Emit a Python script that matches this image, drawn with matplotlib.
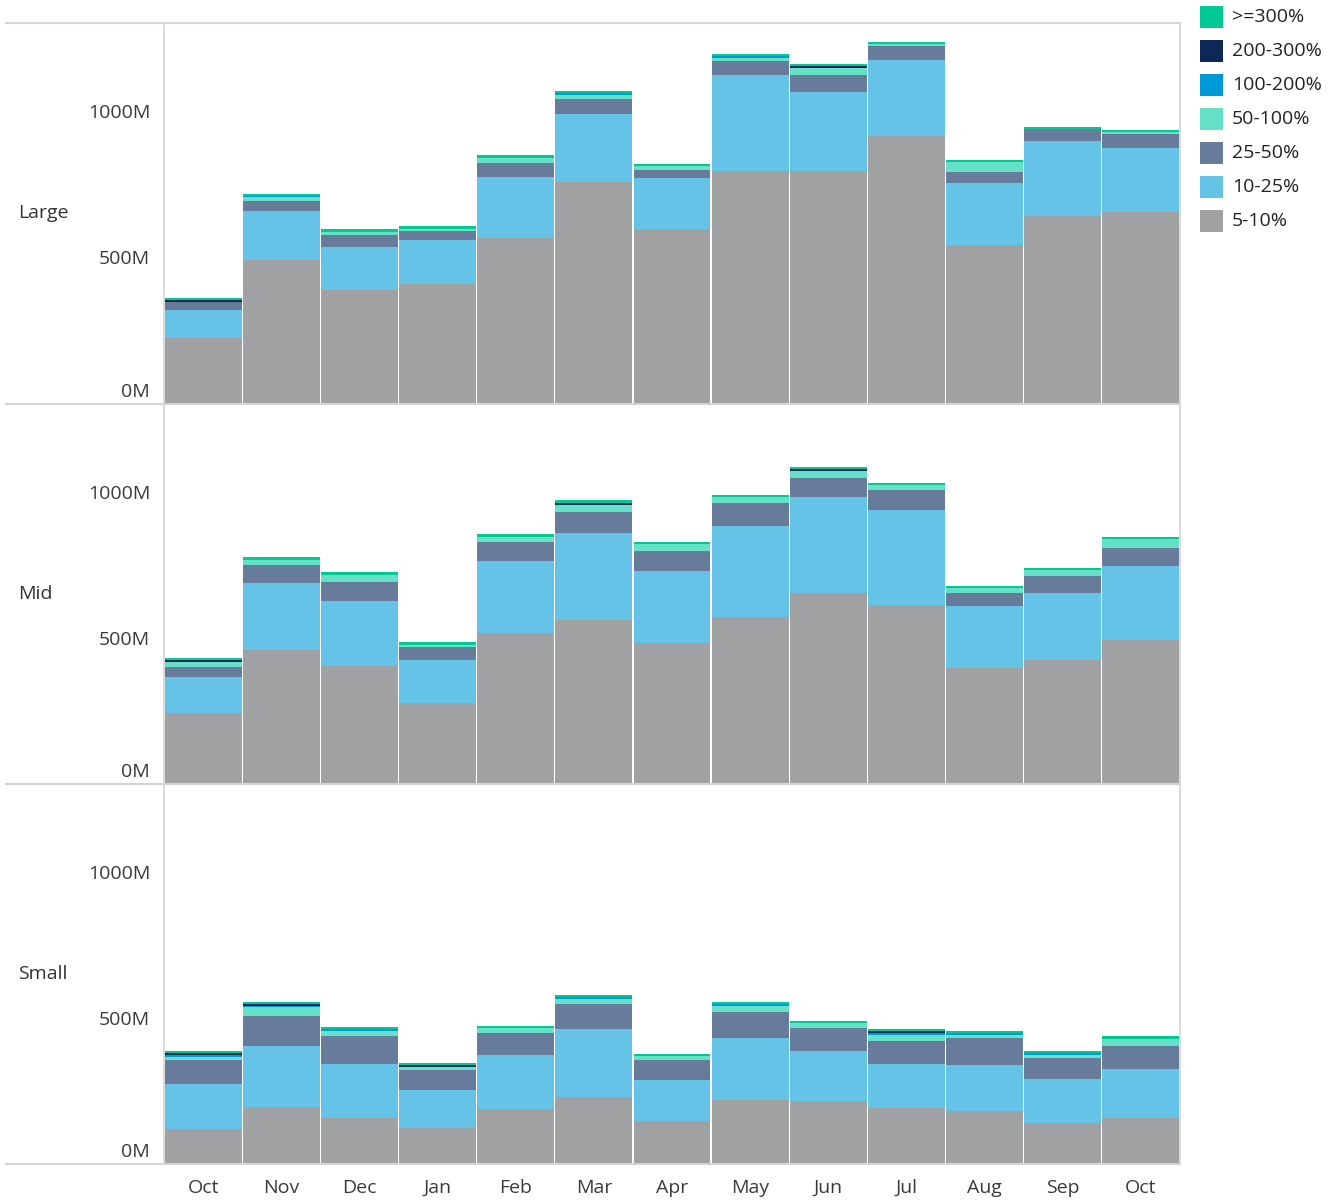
import matplotlib.pyplot as plt
from matplotlib.lines import Line2D
from matplotlib.patches import Rectangle
from matplotlib.transforms import ScaledTranslation

plt.rcParams['font.family'] = ['Open Sans', 'DejaVu Sans']

months = ["Oct", "Nov", "Dec", "Jan", "Feb", "Mar", "Apr", "May", "Jun", "Jul", "Aug", "Sep", "Oct"]
bands = ["5-10%", "10-25%", "25-50%", "50-100%", "100-200%", "200-300%", ">=300%"]
colors = ["#a0a1a3", "#66c3e8", "#677c9a", "#66e0c6", "#0099d8", "#0b2857", "#00c994"]
panels = ["Large", "Mid", "Small"]

# values in millions, one list per band (bottom to top)
large_5_10 = [224, 490, 388, 408, 565, 758, 598, 796, 796, 915, 541, 643, 656]
large_10_25 = [98, 167, 146, 150, 211, 231, 173, 326, 269, 258, 214, 255, 218]
large_25_50 = [27, 37, 44, 31, 48, 51, 27, 48, 58, 48, 37, 41, 48]
large_50_100 = [0, 14, 10, 7, 14, 14, 14, 10, 24, 7, 34, 0, 7]
large_100_200 = [0, 3, 0, 0, 0, 7, 0, 7, 0, 0, 0, 0, 0]
large_200_300 = [7, 0, 0, 0, 0, 0, 0, 0, 7, 0, 0, 0, 0]
large_300 = [7, 6, 10, 10, 10, 7, 7, 7, 7, 7, 7, 7, 7]

mid_5_10 = [242, 457, 403, 276, 515, 560, 481, 573, 655, 614, 396, 423, 491]
mid_10_25 = [123, 232, 222, 147, 249, 297, 249, 311, 328, 324, 212, 232, 256]
mid_25_50 = [34, 61, 65, 44, 65, 75, 68, 79, 65, 68, 44, 58, 61]
mid_50_100 = [17, 17, 24, 10, 17, 24, 24, 20, 24, 17, 20, 20, 31]
mid_100_200 = [0, 0, 0, 0, 0, 0, 0, 0, 0, 0, 0, 0, 0]
mid_200_300 = [7, 0, 0, 0, 0, 7, 0, 0, 4, 0, 0, 0, 0]
mid_300 = [7, 10, 10, 10, 10, 7, 7, 7, 7, 7, 7, 7, 7]

small_5_10 = [119, 195, 157, 123, 188, 229, 147, 218, 215, 191, 181, 140, 157]
small_10_25 = [154, 208, 184, 130, 184, 232, 140, 212, 171, 150, 157, 150, 167]
small_25_50 = [82, 102, 96, 68, 75, 85, 68, 89, 79, 79, 92, 72, 79]
small_50_100 = [10, 31, 17, 10, 17, 17, 14, 20, 17, 20, 10, 10, 24]
small_100_200 = [7, 3, 7, 0, 0, 7, 0, 7, 0, 7, 7, 7, 0]
small_200_300 = [7, 7, 0, 7, 0, 0, 0, 0, 0, 7, 0, 0, 0]
small_300 = [7, 7, 7, 7, 7, 7, 7, 7, 7, 7, 7, 7, 10]

data = {
    "Large": [large_5_10, large_10_25, large_25_50, large_50_100, large_100_200, large_200_300, large_300],
    "Mid": [mid_5_10, mid_10_25, mid_25_50, mid_50_100, mid_100_200, mid_200_300, mid_300],
    "Small": [small_5_10, small_10_25, small_25_50, small_50_100, small_100_200, small_200_300, small_300],
}

W, H = 1336, 1201
fig = plt.figure(figsize=(W / 100, H / 100), dpi=100)
grid = "#d4d4d4"

left, right = 164, 1180
tops = [23, 404, 784]
bottoms = [404, 784, 1164]

for i, name in enumerate(panels):
    ax = fig.add_axes([left / W, 1 - bottoms[i] / H, (right - left) / W, (bottoms[i] - tops[i]) / H])
    x = range(len(months))
    base = [0] * len(months)
    for vals, c in zip(data[name], colors):
        ax.bar(x, vals, bottom=base, width=0.985, color=c, linewidth=0)
        base = [b + v for b, v in zip(base, vals)]
    ax.set_xlim(-0.5, len(months) - 0.5)
    ax.set_ylim(0, 1300)
    ax.set_yticks([0, 500, 1000])
    ax.set_yticklabels(["0M", "500M", "1000M"])
    ax.tick_params(axis='y', length=0, pad=10, labelsize=14, labelcolor="#3a3a3a")
    for s in ["top", "bottom"]:
        ax.spines[s].set_visible(False)
    for s in ["left", "right"]:
        ax.spines[s].set_color(grid)
        ax.spines[s].set_linewidth(1.2)
    if i == 2:
        ax.set_xticks(list(x))
        ax.set_xticklabels(months)
        ax.tick_params(axis='x', length=0, pad=11, labelsize=14, labelcolor="#3a3a3a")
    else:
        ax.set_xticks([])
    fig.canvas.draw()
    lab0 = ax.get_yticklabels()[0]
    lab0.set_transform(lab0.get_transform() + ScaledTranslation(0, 14 / 100, fig.dpi_scale_trans))
    fig.text(18 / W, 1 - (tops[i] + bottoms[i]) / 2 / H, name, fontsize=14,
             color="#333333", va='center', ha='left')

# row separator lines
for yy in [23, 404, 784, 1164]:
    fig.add_artist(Line2D([6 / W, right / W], [1 - yy / H, 1 - yy / H], color=grid, linewidth=1.5))

# legend
for j, (lab, c) in enumerate(zip(bands[::-1], colors[::-1])):
    yc = 17 + 34 * j
    fig.add_artist(Rectangle((1200 / W, 1 - (yc + 11) / H), 23 / W, 22 / H,
                             facecolor=c, edgecolor='none', transform=fig.transFigure))
    fig.text(1232 / W, 1 - yc / H, lab, fontsize=14, color="#222222", va='center', ha='left')

fig.savefig("out.png", dpi=100)
